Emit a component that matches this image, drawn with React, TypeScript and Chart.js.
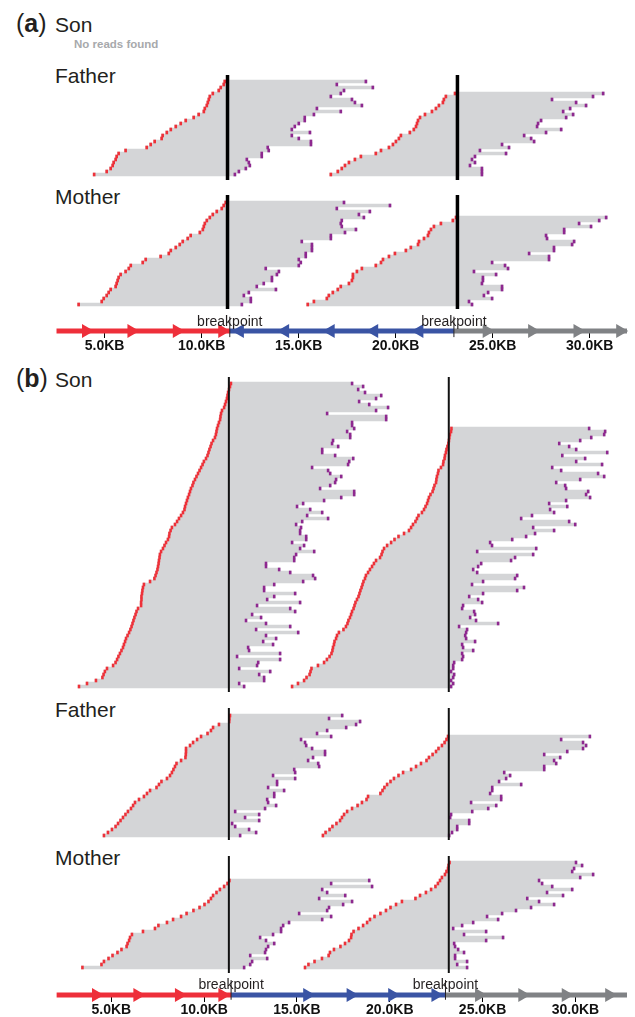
import React, { useEffect, useRef } from "react";
import { Chart, registerables } from "chart.js";

Chart.register(...registerables);

const FONT = "'Liberation Sans', Arial, Helvetica, sans-serif";
const READ_GRAY = "#d4d5d7";
const START_RED = "#ee3139";
const END_PURPLE = "#8e288f";
const ROW_PITCH = 3;
const MARK_KB = 0.1;

// ---------- shared axis data ----------
const BREAKPOINTS_KB = [11.45, 23.0];
const BREAKPOINT_LABEL = "breakpoint";
const TICK_VALUES = [5, 10, 15, 20, 25, 30];
const TICK_LABELS = ["5.0KB", "10.0KB", "15.0KB", "20.0KB", "25.0KB", "30.0KB"];
const A_RANGE_KB: [number, number] = [0.02, 31.92];
const B_RANGE_KB: [number, number] = [-0.57, 32.78];

// ---------- gene tracks (segment bounds: red | blue | gray) ----------
const A_GENE_BOUNDS = [2.52, 11.45, 23.0, 31.92];
const A_ARROWS_RED = [4.04, 6.38, 8.72, 11.06];
const A_ARROWS_BLUE = [11.97, 14.3, 16.65, 18.89, 21.22];
const A_ARROWS_GRAY = [24.69, 27.03, 29.37, 31.57];
const B_GENE_BOUNDS = [2.05, 11.45, 23.0, 32.78];
const B_ARROWS_RED = [4.17, 6.4, 8.64, 10.98];
const B_ARROWS_BLUE = [15.55, 17.89, 20.13, 22.46];
const B_ARROWS_GRAY = [24.81, 27.14, 29.48, 31.82];

// ---------- reads (KB), listed top row -> bottom row ----------
const A_FATHER_LEFT_START = [11.26, 11.21, 11.06, 10.96, 10.66, 10.51, 10.46, 10.41, 10.36, 10.26, 10.21, 9.95, 9.7, 9.3, 9.05, 8.8, 8.55, 8.35, 8.14, 8.09, 7.74, 7.54, 7.34, 6.28, 5.93, 5.83, 5.78, 5.68, 5.63, 5.53, 5.33, 4.7];
const A_FATHER_LEFT_END = [18.45, 16.99, 18.8, 17.35, 17.19, 16.69, 17.75, 17.9, 18.25, 15.99, 17.19, 15.84, 15.38, 15.38, 15.08, 14.88, 14.73, 15.64, 14.73, 15.08, 15.69, 15.69, 13.52, 13.57, 13.22, 13.22, 12.47, 12.57, 12.62, 12.42, 12.07, 11.87];
const A_FATHER_RIGHT_START = [22.83, 22.37, 22.27, 22.22, 22.02, 21.87, 21.67, 21.32, 21.07, 20.97, 20.92, 20.87, 20.76, 20.56, 20.11, 20.01, 19.86, 19.71, 19.51, 19.11, 18.85, 18.1, 17.8, 17.5, 17.3, 17.14, 16.94, 16.59];
const A_FATHER_RIGHT_END = [30.37, 29.86, 27.8, 29.01, 29.51, 28.71, 28.36, 28.86, 28.51, 27.25, 27.1, 27.05, 28.26, 27.5, 26.4, 26.75, 26.9, 25.29, 25.64, 24.18, 25.49, 23.93, 23.78, 23.93, 23.68, 24.28, 24.28, 24.28];

const A_MOTHER_LEFT_START = [11.31, 11.21, 11.11, 10.86, 10.66, 10.51, 10.36, 10.26, 10.21, 10.16, 10.01, 9.55, 9.4, 9.15, 9.0, 8.8, 8.55, 8.45, 8.04, 7.29, 7.14, 6.54, 6.44, 6.28, 6.03, 5.93, 5.88, 5.83, 5.78, 5.53, 5.43, 5.33, 5.18, 5.08, 3.92];
const A_MOTHER_LEFT_END = [17.35, 19.66, 16.99, 18.65, 18.1, 18.35, 17.24, 17.19, 17.24, 17.95, 17.4, 16.69, 16.69, 15.23, 15.74, 15.74, 15.74, 15.43, 15.43, 15.08, 15.18, 15.08, 13.42, 14.08, 13.98, 13.73, 13.73, 13.32, 12.97, 13.93, 12.57, 12.32, 12.67, 12.67, 12.22];
const A_MOTHER_RIGHT_START = [22.88, 22.72, 22.12, 21.77, 21.62, 21.52, 21.47, 21.27, 21.02, 20.97, 20.61, 20.36, 19.81, 19.51, 19.21, 19.11, 18.85, 18.15, 17.9, 17.7, 17.7, 17.65, 17.5, 17.09, 16.94, 16.69, 16.49, 16.39, 15.74, 15.43];
const A_MOTHER_RIGHT_END = [30.52, 30.17, 29.16, 29.76, 28.41, 28.41, 27.5, 27.55, 28.91, 28.81, 27.9, 27.9, 26.65, 27.65, 27.65, 24.79, 25.44, 25.59, 23.88, 24.99, 24.33, 24.33, 24.28, 25.29, 25.29, 24.59, 24.38, 24.79, 23.63, 23.78];

const B_SON_LEFT_START = [
  11.51, 11.46, 11.41, 11.36, 11.33, 11.3, 11.25, 11.2, 11.15, 11.04,
  10.99, 10.96, 10.94, 10.88, 10.83, 10.78, 10.75, 10.72, 10.67, 10.57,
  10.49, 10.44, 10.38, 10.33, 10.28, 10.2, 10.09, 10.02, 9.94, 9.86,
  9.78, 9.7, 9.62, 9.54, 9.49, 9.41, 9.36, 9.31, 9.25, 9.2,
  9.15, 9.1, 9.07, 8.99, 8.89, 8.78, 8.68, 8.57, 8.41, 8.34,
  8.28, 8.26, 8.2, 8.1, 8.02, 7.94, 7.84, 7.78, 7.76, 7.73,
  7.71, 7.68, 7.65, 7.6, 7.55, 7.49, 7.26, 6.94, 6.89, 6.86,
  6.84, 6.81, 6.81, 6.79, 6.79, 6.63, 6.55, 6.5, 6.44, 6.39,
  6.34, 6.29, 6.23, 6.16, 6.08, 6.0, 5.95, 5.89, 5.84, 5.76,
  5.68, 5.6, 5.53, 5.45, 5.32, 5.0, 4.89, 4.82, 4.76, 4.42,
  3.95, 3.53];
const B_SON_LEFT_END = [
  17.97, 18.55, 18.29, 18.65, 19.5, 19.23, 18.34, 18.87, 19.86, 19.23,
  16.66, 19.76, 19.76, 17.97, 17.97, 18.08, 17.71, 17.87, 17.87, 16.97,
  16.92, 17.24, 16.4, 16.4, 17.08, 18.03, 17.82, 17.76, 15.87, 16.71,
  16.82, 17.4, 17.13, 17.08, 16.82, 16.29, 18.08, 18.08, 17.4, 16.5,
  15.4, 15.08, 15.77, 16.4, 15.61, 16.71, 15.35, 15.03, 15.29, 15.24,
  15.24, 15.56, 15.56, 14.82, 15.45, 15.24, 15.98, 15.03, 14.93, 14.93,
  13.45, 13.45, 14.14, 14.72, 15.92, 16.03, 15.4, 13.88, 13.35, 13.35,
  14.98, 13.88, 13.51, 15.24, 12.98, 14.72, 14.98, 12.72, 13.19, 12.4,
  13.45, 14.72, 12.93, 15.14, 13.45, 13.98, 13.3, 13.82, 12.51, 12.56,
  14.19, 11.93, 14.19, 13.04, 12.98, 12.04, 13.67, 13.09, 13.35, 13.35,
  12.04, 12.3];
const B_SON_RIGHT_START = [
  23.09, 23.07, 23.01, 22.98, 22.96, 22.93, 22.88, 22.83, 22.8, 22.75,
  22.73, 22.67, 22.65, 22.54, 22.41, 22.38, 22.33, 22.3, 22.28, 22.2,
  22.15, 22.1, 21.99, 21.91, 21.86, 21.81, 21.73, 21.65, 21.54, 21.36,
  21.28, 21.2, 21.07, 20.97, 20.86, 20.6, 20.31, 20.1, 19.92, 19.71,
  19.55, 19.47, 19.42, 19.34, 19.13, 19.02, 18.92, 18.81, 18.71, 18.6,
  18.55, 18.47, 18.42, 18.37, 18.31, 18.26, 18.21, 18.13, 18.05, 18.0,
  17.95, 17.87, 17.82, 17.76, 17.68, 17.63, 17.55, 17.42, 17.18, 17.08,
  17.03, 16.95, 16.92, 16.87, 16.84, 16.79, 16.69, 16.55, 16.4, 16.08,
  15.74, 15.69, 15.64, 15.48, 15.35, 15.03, 14.72];
const B_SON_RIGHT_END = [
  30.42, 31.26, 31.21, 30.53, 29.95, 28.85, 29.37, 29.74, 31.37, 29.01,
  30.21, 29.74, 31.1, 28.48, 28.95, 30.89, 31.21, 29.95, 28.69, 29.16,
  29.21, 30.37, 30.26, 30.47, 29.21, 28.32, 29.27, 28.37, 28.58, 27.42,
  26.85, 29.37, 29.69, 27.48, 28.58, 27.58, 27.11, 26.38, 25.22, 25.32,
  27.64, 24.54, 27.48, 26.53, 26.32, 24.75, 24.59, 24.33, 24.54, 26.64,
  26.53, 24.85, 24.27, 27.0, 26.64, 24.85, 24.12, 24.59, 24.8, 23.8,
  23.75, 24.38, 24.43, 24.17, 24.48, 25.64, 23.59, 24.01, 23.96, 23.91,
  23.96, 24.43, 23.75, 23.8, 24.33, 23.75, 23.8, 23.75, 23.33, 23.28,
  23.28, 23.17, 23.33, 23.28, 23.17, 23.28, 23.17];

const B_FATHER_LEFT_START = [11.46, 11.43, 11.42, 10.88, 10.57, 10.46, 10.28, 9.94, 9.73, 9.52, 9.36, 9.15, 9.15, 9.14, 9.12, 8.89, 8.65, 8.57, 8.49, 8.41, 8.31, 8.15, 7.86, 7.73, 7.6, 7.26, 7.1, 6.94, 6.68, 6.47, 6.37, 6.26, 6.1, 5.97, 5.84, 5.71, 5.58, 5.45, 5.26, 5.05, 4.84];
const B_FATHER_LEFT_END = [17.45, 16.76, 18.39, 18.18, 17.66, 16.66, 16.13, 16.87, 15.29, 15.5, 15.56, 15.87, 16.55, 16.55, 15.92, 15.66, 16.19, 16.24, 14.93, 14.98, 13.82, 14.98, 14.03, 14.03, 13.56, 14.4, 13.88, 13.88, 13.51, 13.56, 13.98, 13.4, 11.83, 13.09, 12.35, 13.09, 11.67, 11.83, 12.56, 12.93, 12.09];
const B_FATHER_RIGHT_START = [22.91, 22.83, 22.73, 22.59, 22.41, 22.28, 22.1, 21.91, 21.78, 21.49, 21.23, 20.97, 20.55, 20.31, 20.07, 19.89, 19.71, 19.57, 19.47, 19.36, 18.71, 18.63, 18.39, 18.16, 17.87, 17.61, 17.45, 17.34, 17.24, 17.05, 16.84, 16.69, 16.48, 16.34];
const B_FATHER_RIGHT_END = [30.46, 28.95, 30.1, 30.26, 30.1, 29.27, 28.06, 28.9, 28.58, 28.69, 28.06, 28.06, 25.96, 26.27, 26.06, 25.69, 26.85, 25.33, 25.33, 25.22, 25.8, 25.8, 24.22, 25.54, 25.12, 24.28, 23.17, 23.12, 24.12, 24.12, 23.49, 23.49, 23.22, 23.07];

const B_MOTHER_LEFT_START = [11.43, 11.33, 11.15, 10.93, 10.75, 10.57, 10.46, 10.33, 10.12, 9.86, 9.54, 9.18, 8.89, 8.47, 8.15, 7.7, 7.52, 6.89, 6.31, 6.21, 6.16, 6.08, 6.03, 5.76, 5.55, 5.29, 5.08, 4.84, 4.71, 3.71];
const B_MOTHER_LEFT_END = [18.87, 16.87, 19.02, 16.4, 16.66, 17.61, 16.24, 17.97, 17.5, 16.76, 16.66, 15.19, 16.87, 16.4, 14.66, 14.35, 14.24, 14.24, 13.82, 13.14, 13.45, 13.88, 13.56, 13.45, 13.4, 12.62, 13.51, 12.72, 12.62, 12.3];
const B_MOTHER_RIGHT_START = [22.99, 22.94, 22.91, 22.83, 22.75, 22.59, 22.49, 22.38, 22.25, 22.02, 21.75, 21.44, 21.2, 20.49, 20.18, 19.89, 19.65, 19.36, 19.05, 18.81, 18.66, 18.45, 18.21, 17.95, 17.84, 17.82, 17.71, 17.5, 17.26, 16.92, 16.71, 16.64, 16.29, 15.9, 15.58, 15.4];
const B_MOTHER_RIGHT_END = [29.73, 30.05, 29.63, 29.53, 30.63, 29.95, 27.79, 27.95, 28.48, 29.53, 28.21, 29.05, 27.17, 27.79, 28.58, 27.37, 26.58, 25.85, 25.06, 25.64, 24.33, 23.75, 23.28, 25.01, 23.85, 25.9, 25.01, 23.33, 23.38, 23.54, 23.85, 23.38, 23.38, 24.01, 23.49, 24.01];

type Group = { starts: number[]; ends: number[] };
type TrackCfg = {
  key: string; top: number; height: number; bottomRowY: number;
  range: [number, number]; bpWidth: number; bpColor: string; groups: Group[];
};

const TRACKS: TrackCfg[] = [
  { key: "aFather", top: 75, height: 105, bottomRowY: 174.5, range: A_RANGE_KB, bpWidth: 3.5, bpColor: "#000",
    groups: [{ starts: A_FATHER_LEFT_START, ends: A_FATHER_LEFT_END }, { starts: A_FATHER_RIGHT_START, ends: A_FATHER_RIGHT_END }] },
  { key: "aMother", top: 195, height: 114, bottomRowY: 304.5, range: A_RANGE_KB, bpWidth: 3.5, bpColor: "#000",
    groups: [{ starts: A_MOTHER_LEFT_START, ends: A_MOTHER_LEFT_END }, { starts: A_MOTHER_RIGHT_START, ends: A_MOTHER_RIGHT_END }] },
  { key: "bSon", top: 377, height: 315, bottomRowY: 686.5, range: B_RANGE_KB, bpWidth: 2, bpColor: "#111",
    groups: [{ starts: B_SON_LEFT_START, ends: B_SON_LEFT_END }, { starts: B_SON_RIGHT_START, ends: B_SON_RIGHT_END }] },
  { key: "bFather", top: 708, height: 132, bottomRowY: 835.5, range: B_RANGE_KB, bpWidth: 2, bpColor: "#111",
    groups: [{ starts: B_FATHER_LEFT_START, ends: B_FATHER_LEFT_END }, { starts: B_FATHER_RIGHT_START, ends: B_FATHER_RIGHT_END }] },
  { key: "bMother", top: 856, height: 117, bottomRowY: 967.5, range: B_RANGE_KB, bpWidth: 2, bpColor: "#111",
    groups: [{ starts: B_MOTHER_LEFT_START, ends: B_MOTHER_LEFT_END }, { starts: B_MOTHER_RIGHT_START, ends: B_MOTHER_RIGHT_END }] },
];

function ReadTrack({ cfg }: { cfg: TrackCfg }) {
  const ref = useRef<HTMLCanvasElement | null>(null);
  useEffect(() => {
    if (!ref.current) return;
    const { top, height, bottomRowY, range, groups, bpWidth, bpColor } = cfg;
    const yMin = (bottomRowY - (top + height)) / ROW_PITCH;
    const yMax = (bottomRowY - top) / ROW_PITCH;
    const reads: any[] = [];
    const reds: any[] = [];
    const purples: any[] = [];
    groups.forEach((g) => {
      const n = Math.min(g.starts.length, g.ends.length);
      for (let i = 0; i < n; i++) {
        const y = n - 1 - i;
        reads.push({ x: [g.starts[i], g.ends[i]], y });
        reds.push({ x: [g.starts[i], g.starts[i] + MARK_KB], y });
        purples.push({ x: [g.ends[i] - MARK_KB, g.ends[i]], y });
      }
    });
    const barCommon = { type: "bar", borderWidth: 0, barPercentage: 1, categoryPercentage: 1, grouped: false };
    const bpSets = BREAKPOINTS_KB.map((bp) => ({
      type: "line",
      data: [{ x: bp, y: yMin }, { x: bp, y: yMax }],
      borderColor: bpColor,
      borderWidth: bpWidth,
      pointRadius: 0,
      order: 0,
      clip: false,
    }));
    const chart = new Chart(ref.current, {
      type: "bar",
      data: {
        datasets: [
          { ...barCommon, data: reads, backgroundColor: READ_GRAY, order: 3 },
          { ...barCommon, data: reds, backgroundColor: START_RED, order: 2 },
          { ...barCommon, data: purples, backgroundColor: END_PURPLE, order: 2 },
          ...bpSets,
        ] as any,
      },
      options: {
        indexAxis: "y",
        animation: false,
        responsive: false,
        devicePixelRatio: 1,
        events: [],
        layout: { padding: 0 },
        plugins: { legend: { display: false }, tooltip: { enabled: false } },
        scales: {
          x: { type: "linear", min: range[0], max: range[1], display: false },
          y: { type: "linear", min: yMin, max: yMax, display: false, offset: false },
        },
      } as any,
    });
    return () => chart.destroy();
  }, []);
  return (
    <canvas
      ref={ref}
      width={635}
      height={cfg.height}
      style={{ position: "absolute", left: 0, top: cfg.top, width: 635, height: cfg.height }}
    />
  );
}

type GeneCfg = {
  top: number; height: number; axisHeight: number; range: [number, number];
  bounds: number[]; red: number[]; blue: number[]; blueRotation: number; gray: number[];
  labelY: number; bpLine: [number, number];
};

const GENE_A: GeneCfg = {
  top: 306, height: 51, axisHeight: 26, range: A_RANGE_KB, bounds: A_GENE_BOUNDS,
  red: A_ARROWS_RED, blue: A_ARROWS_BLUE, blueRotation: -90, gray: A_ARROWS_GRAY, labelY: 13, bpLine: [-9, 21],
};
const GENE_B: GeneCfg = {
  top: 970, height: 47, axisHeight: 22, range: B_RANGE_KB, bounds: B_GENE_BOUNDS,
  red: B_ARROWS_RED, blue: B_ARROWS_BLUE, blueRotation: 90, gray: B_ARROWS_GRAY, labelY: 14, bpLine: [-7, 22],
};

const GENE_RED = "#ee2f3a";
const GENE_BLUE = "#3a54a4";
const GENE_GRAY = "#808285";

function GeneAxis({ cfg }: { cfg: GeneCfg }) {
  const ref = useRef<HTMLCanvasElement | null>(null);
  useEffect(() => {
    if (!ref.current) return;
    const areaH = cfg.height - cfg.axisHeight;
    const seg = (a: number, b: number, color: string) => ({
      type: "line", data: [{ x: a, y: 0 }, { x: b, y: 0 }], borderColor: color, borderWidth: 5,
      pointRadius: 0, clip: false, order: 3, borderCapStyle: "butt",
    });
    const arrows = (xs: number[], color: string, rot: number) => ({
      type: "line", showLine: false, data: xs.map((x) => ({ x, y: 0 })), pointStyle: "triangle",
      pointRotation: rot, pointRadius: 8, pointBackgroundColor: color, pointBorderColor: color,
      pointBorderWidth: 0, clip: false, order: 2,
    });
    const b = cfg.bounds;
    const bpSets = BREAKPOINTS_KB.map((bp) => ({
      type: "line", data: [{ x: bp, y: cfg.bpLine[0] }, { x: bp, y: cfg.bpLine[1] }],
      borderColor: "#231f20", borderWidth: 1, pointRadius: 0, clip: false, order: 1,
    }));
    const labelPlugin = {
      id: "bpLabels",
      afterDatasetsDraw(chart: any) {
        const { ctx } = chart;
        const xs = chart.scales.x;
        const ys = chart.scales.y;
        ctx.save();
        ctx.font = `14px ${FONT}`;
        ctx.fillStyle = "#231f20";
        ctx.textAlign = "center";
        ctx.textBaseline = "middle";
        BREAKPOINTS_KB.forEach((bp) => {
          ctx.fillText(BREAKPOINT_LABEL, xs.getPixelForValue(bp), ys.getPixelForValue(cfg.labelY));
        });
        ctx.restore();
      },
    };
    const chart = new Chart(ref.current, {
      type: "line",
      data: {
        datasets: [
          seg(b[0], b[1], GENE_RED),
          seg(b[1], b[2], GENE_BLUE),
          seg(b[2], b[3], GENE_GRAY),
          arrows(cfg.red, GENE_RED, 90),
          arrows(cfg.blue, GENE_BLUE, cfg.blueRotation),
          arrows(cfg.gray, GENE_GRAY, 90),
          ...bpSets,
        ] as any,
      },
      options: {
        animation: false,
        responsive: false,
        devicePixelRatio: 1,
        events: [],
        layout: { padding: 0 },
        plugins: { legend: { display: false }, tooltip: { enabled: false } },
        scales: {
          x: {
            type: "linear", min: cfg.range[0], max: cfg.range[1], position: "bottom",
            border: { display: false },
            grid: { display: true, drawOnChartArea: false, drawTicks: true, tickLength: 7, color: "#000", lineWidth: 1 },
            ticks: {
              autoSkip: false, maxRotation: 0, minRotation: 0, padding: 0, color: "#111",
              font: { family: FONT, size: 14, weight: "bold" },
              callback: (v: number) => {
                const i = TICK_VALUES.indexOf(v);
                return i >= 0 ? TICK_LABELS[i] : "";
              },
            },
            afterBuildTicks: (s: any) => { s.ticks = TICK_VALUES.map((value) => ({ value })); },
            afterFit: (s: any) => { s.height = cfg.axisHeight; },
          },
          y: { type: "linear", min: 0, max: areaH, display: false },
        },
      } as any,
      plugins: [labelPlugin],
    });
    return () => chart.destroy();
  }, []);
  return (
    <canvas
      ref={ref}
      width={635}
      height={cfg.height}
      style={{ position: "absolute", left: 0, top: cfg.top, width: 635, height: cfg.height }}
    />
  );
}

function Label({ x, baseline, size, weight = 400, color = "#231f20", children }: any) {
  return (
    <div
      style={{
        position: "absolute", left: x, top: baseline - 0.8465 * size, fontFamily: FONT,
        fontSize: size, lineHeight: `${size}px`, fontWeight: weight, color, whiteSpace: "nowrap",
      }}
    >
      {children}
    </div>
  );
}

export default function App() {
  return (
    <div style={{ position: "absolute", left: 0, top: 0, width: 635, height: 1017, overflow: "hidden", background: "#fff" }}>
      <Label x={16} baseline={32} size={25}>(<b>a</b>)</Label>
      <Label x={55} baseline={32} size={21}>Son</Label>
      <Label x={74} baseline={49} size={11.5} weight={700} color="#a7a9ac">No reads found</Label>
      <Label x={55} baseline={83} size={21}>Father</Label>
      <Label x={55} baseline={204} size={21}>Mother</Label>
      <Label x={16} baseline={387} size={25}>(<b>b</b>)</Label>
      <Label x={55} baseline={387} size={21}>Son</Label>
      <Label x={55} baseline={717} size={21}>Father</Label>
      <Label x={55} baseline={865} size={21}>Mother</Label>
      {TRACKS.map((t) => <ReadTrack key={t.key} cfg={t} />)}
      <GeneAxis cfg={GENE_A} />
      <GeneAxis cfg={GENE_B} />
    </div>
  );
}
